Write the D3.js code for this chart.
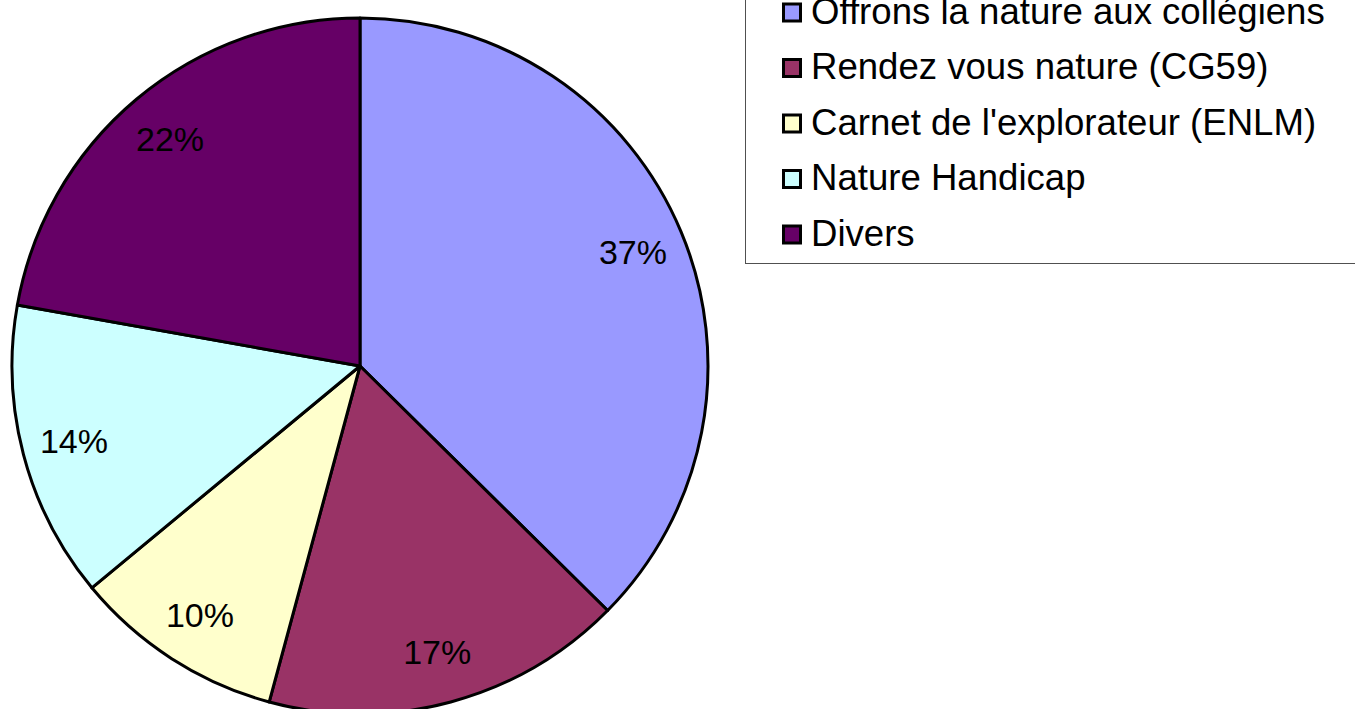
<!DOCTYPE html>
<html>
<head>
<meta charset="utf-8">
<script src="https://cdn.jsdelivr.net/npm/d3@7"></script>
<style>
  body { margin: 0; background: #fff; }
  svg { display: block; font-family: "Liberation Sans", Arial, sans-serif; }
</style>
</head>
<body>
<svg id="chart" width="1355" height="709"></svg>
<script>
// data
const categories = ["Offrons la nature aux collégiens", "Rendez vous nature (CG59)",
                    "Carnet de l'explorateur (ENLM)", "Nature Handicap", "Divers"]
const values = [37.4, 16.8, 9.8, 13.8, 22.2]
const labels = ["37%", "17%", "10%", "14%", "22%"]
const colors = ["#9999ff", "#993366", "#ffffcc", "#ccffff", "#660066"]

const width = 1355, height = 709
const cx = 360, cy = 366, radius = 348

const svg = d3.select("#chart")

const pie = d3.pie().sort(null).value(d => d)
const arcs = pie(values)

const arc = d3.arc().innerRadius(0).outerRadius(radius)
const label_arc = d3.arc().innerRadius(radius * 0.85).outerRadius(radius * 0.85)

const g = svg.append("g").attr("transform", `translate(${cx}, ${cy})`)

g.selectAll("path")
    .data(arcs)
    .join("path")
        .attr("d", arc)
        .attr("fill", (d, i) => colors[i])
        .attr("stroke", "black")
        .attr("stroke-width", 3)
        .attr("stroke-linejoin", "round")

g.selectAll("text.lbl")
    .data(arcs)
    .join("text")
        .attr("class", "lbl")
        .attr("transform", d => `translate(${label_arc.centroid(d)})`)
        .attr("text-anchor", "middle")
        .attr("dominant-baseline", "central")
        .style("font-size", "34px")
        .attr("fill", "black")
        .text((d, i) => labels[i])

// legend
const legend_x = 745, legend_bottom = 263
svg.append("rect")
    .attr("x", legend_x + 0.5)
    .attr("y", -5)
    .attr("width", width)
    .attr("height", legend_bottom + 5.5)
    .attr("fill", "white")
    .attr("stroke", "#505050")
    .attr("stroke-width", 1)

const row_y = d3.scalePoint().domain(d3.range(categories.length)).range([12.5, 234.5])

const items = svg.selectAll("g.item")
    .data(categories)
    .join("g")
        .attr("class", "item")
        .attr("transform", (d, i) => `translate(${legend_x}, ${row_y(i)})`)

items.append("rect")
    .attr("x", 38.5)
    .attr("y", -8.5)
    .attr("width", 17)
    .attr("height", 17)
    .attr("fill", (d, i) => colors[i])
    .attr("stroke", "black")
    .attr("stroke-width", 3)

items.append("text")
    .attr("x", 66)
    .attr("y", 11)
    .style("font-size", "36.6px")
    .attr("fill", "black")
    .text(d => d)
</script>
</body>
</html>
